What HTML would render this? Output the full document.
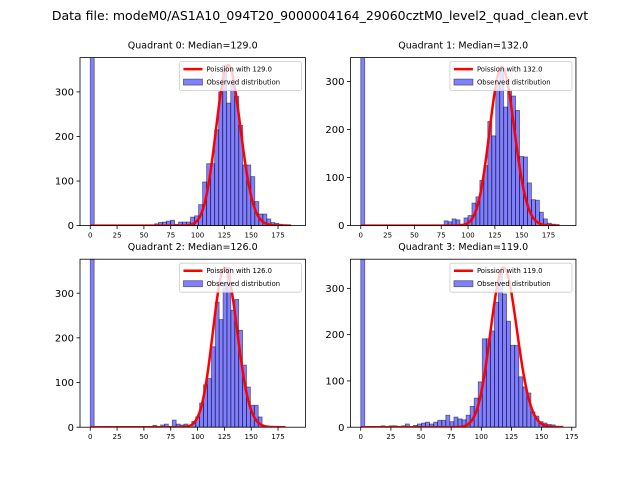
<!DOCTYPE html>
<html><head><meta charset="utf-8"><style>
body{margin:0;background:#fff}
svg{display:block;font-family:"DejaVu Sans","Liberation Sans",sans-serif}
</style></head><body>
<svg id="fig" width="640" height="480" viewBox="0 0 640 480" xmlns="http://www.w3.org/2000/svg">
<text x="320" y="20" text-anchor="middle" font-size="12.5">Data file: modeM0/AS1A10_094T20_9000004164_29060cztM0_level2_quad_clean.evt</text>
</svg>
<script>
// ---- data ----
const quadrantNames = ["Quadrant 0","Quadrant 1","Quadrant 2","Quadrant 3"];
const medians = [129.0, 132.0, 126.0, 119.0];
const binMax = [187, 185, 182, 168];
const dataSpan = [191, 191, 191, 170];
const yMaxes = [377, 350, 376, 363];
const curvePeaks = [360, 330, 357, 345];
const yTicks = [0, 100, 200, 300];
const xTicks = [0, 25, 50, 75, 100, 125, 150, 175];
const countsQ0 = [2000,0,0,0,0,0,0,0,0,0,0,0,0,0,0,0,4,7,8,10,12,3,8,8,8,19,22,47,98,139,139,215,300,360,275,320,290,225,136,136,110,54,26,26,15,7,5,3,2,1];
const countsQ1 = [2000,0,0,0,0,0,0,0,0,0,0,0,0,0,0,0,0,0,0,0,0,10,8,14,12,3,16,21,47,60,94,125,217,187,297,325,247,283,270,240,144,143,89,54,53,28,14,5,3,2];
const countsQ2 = [2000,0,0,0,0,0,0,0,0,0,0,0,0,0,0,0,4,0,5,7,0,16,7,5,7,0,13,23,54,95,109,180,280,241,323,357,262,286,217,139,90,49,49,23,3,0,0,0,0,0];
const countsQ3 = [2000,0,0,0,0,3,0,3,3,0,3,7,0,4,7,9,11,7,11,15,15,26,12,22,18,16,26,45,63,98,191,191,208,270,335,288,229,177,177,109,87,74,33,24,12,9,6,5,2,0];
const allCounts = [countsQ0, countsQ1, countsQ2, countsQ3];

const NS = "http://www.w3.org/2000/svg";
const fig = document.getElementById("fig");
function mk(tag, attrs, parent){const e=document.createElementNS(NS,tag);for(const k in attrs)e.setAttribute(k,attrs[k]);(parent||fig).appendChild(e);return e;}

const axW = 225.45, axH = 168;
const origins = [[80,57.6],[350.5,57.6],[80,259.2],[350.5,259.2]];

for (let q=0;q<4;q++){
  const [ox,oy] = origins[q];
  const counts = allCounts[q];
  const nb = counts.length;
  const bw = binMax[q]/nb;
  const xmin = -0.05*dataSpan[q], xmax = dataSpan[q]*1.05;
  const sx = v => ox + (v - xmin)/(xmax - xmin)*axW;
  const sy = v => oy + axH - v/yMaxes[q]*axH;
  const g = mk("g",{});
  
  
  const cid = "clip"+q;
  const cp = mk("clipPath",{id:cid},g);
  mk("rect",{x:ox,y:oy,width:axW,height:axH},cp);
  const bars = mk("g",{"clip-path":"url(#"+cid+")"},g);
  for (let i=0;i<nb;i++){
    if (!counts[i]) continue;
    const x0 = sx(i*bw), x1 = sx((i+1)*bw);
    const r = mk("rect",{x:x0,y:sy(counts[i]),width:x1-x0,height:sy(0)-sy(counts[i]),fill:"rgba(0,0,255,0.5)",stroke:"rgba(0,0,0,0.5)","stroke-width":"0.8"},bars);
    
    
  }
  const lam = medians[q];
  let lf = 0; const pts = []; let pmax = 0; const pm = [];
  for (let k=0;k<=Math.round(binMax[q]);k++){
    if (k>0) lf += Math.log(k);
    const p = Math.exp(k*Math.log(lam) - lam - lf);
    pm.push(p); if (p>pmax) pmax=p;
  }
  for (let k=0;k<pm.length;k++) pts.push(sx(k).toFixed(2)+","+sy(pm[k]/pmax*curvePeaks[q]).toFixed(2));
  const line = mk("polyline",{points:pts.join(" "),fill:"none",stroke:"#ff0000","stroke-width":"2.5","stroke-linejoin":"round"},bars);
  
  
  mk("rect",{x:ox,y:oy,width:axW,height:axH,fill:"none",stroke:"#000","stroke-width":"0.8"},g);
  for (const t of xTicks){
    if (t > xmax) continue;
    const x = sx(t);
    mk("line",{x1:x,y1:oy+axH,x2:x,y2:oy+axH+3.5,stroke:"#000","stroke-width":"0.8"},g);
    const tx = mk("text",{x:x,y:oy+axH+12,"text-anchor":"middle","font-size":"7"},g);
    tx.textContent = t;
    
    
  }
  for (const t of yTicks){
    const y = sy(t);
    mk("line",{x1:ox-3.5,y1:y,x2:ox,y2:y,stroke:"#000","stroke-width":"0.8"},g);
    const ty = mk("text",{x:ox-6,y:y+3.6,"text-anchor":"end","font-size":"10"},g);
    ty.textContent = t;
    
    
  }
  const title = mk("text",{x:ox+axW/2,y:oy-9,"text-anchor":"middle","font-size":"9.5"},g);
  title.textContent = quadrantNames[q] + ": Median=" + medians[q].toFixed(1);
  
  
  const lg = mk("g",{},g);
  
  
  const lx = ox+axW-126, ly = oy+4;
  mk("rect",{x:lx,y:ly,width:122,height:29,rx:2,fill:"rgba(255,255,255,0.8)",stroke:"#ccc","stroke-width":"0.8"},lg);
  mk("line",{x1:lx+4,y1:ly+7.5,x2:lx+23,y2:ly+7.5,stroke:"#ff0000","stroke-width":"2.5"},lg);
  const t1 = mk("text",{x:lx+27,y:ly+10,"font-size":"6.8"},lg);
  t1.textContent = "Poission with " + medians[q].toFixed(1);
  mk("rect",{x:lx+4,y:ly+17.5,width:19,height:6,fill:"rgba(0,0,255,0.5)",stroke:"rgba(0,0,0,0.5)","stroke-width":"0.8"},lg);
  const t2 = mk("text",{x:lx+27,y:ly+23,"font-size":"6.8"},lg);
  t2.textContent = "Observed distribution";
}
</script>
</body></html>
